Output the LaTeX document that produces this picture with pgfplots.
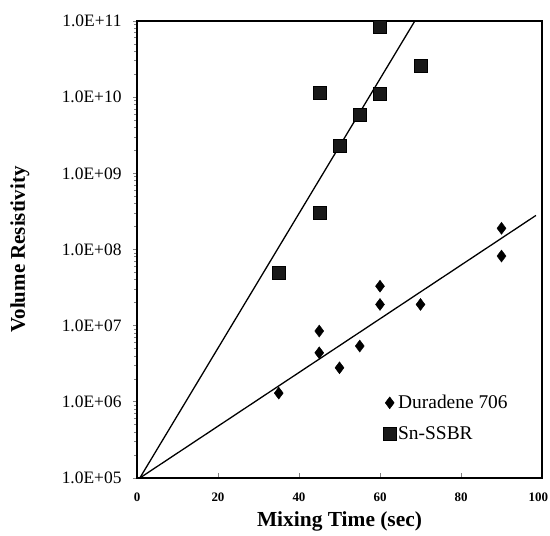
\documentclass[border=0pt]{standalone}
\usepackage{fontspec}
\setmainfont{Liberation Serif}
\usepackage{pgfplots}
\pgfplotsset{compat=1.18}
\begin{document}
\begin{tikzpicture}
\useasboundingbox (-137bp,-58bp) rectangle (413bp,478bp);
\begin{axis}[
  at={(0,0)}, anchor=south west,
  scale only axis, width=405bp, height=457bp,
  ymode=log, xmin=0, xmax=100, ymin=1e5, ymax=1e11,
  axis line style={line width=1.3bp},
  xtick={0,20,40,60,80,100},
  xticklabels={0,20,40,60,80,\makebox[0pt][r]{100\kern-6bp}},
  ytick={1e5,1e6,1e7,1e8,1e9,1e10,1e11},
  yticklabels={1.0E+05,1.0E+06,1.0E+07,1.0E+08,1.0E+09,1.0E+10,1.0E+11},
  tick pos=left, tick align=outside, major tick length=4bp,
  xtick style={yshift=5bp, line width=0.8bp},
  ytick style={line width=0.8bp},
  /pgf/number format/assume math mode=true,
  xticklabel style={font=\fontsize{13}{15}\selectfont\bfseries, yshift=-7bp},
  yticklabel style={font=\fontsize{17.5}{20}\selectfont, xshift=-8bp},
  xlabel={Mixing Time (sec)},
  ylabel={Volume Resistivity},
  xlabel style={font=\fontsize{21.5}{24}\selectfont\bfseries, at={(axis description cs:0.5,-0.096)}, anchor=center},
  ylabel style={font=\fontsize{21}{24}\selectfont\bfseries, at={(axis description cs:-0.289,0.5)}, anchor=center, rotate=0},
  legend style={at={(0.6,0.19)}, anchor=north west, draw=none, fill=none,
    font=\fontsize{19.5}{22}\selectfont, row sep=12bp},
  legend cell align=left,
]
% measured resistivity
\addplot[only marks, mark=diamond*, mark size=6bp, black] coordinates {
  (35,1.3e6) (45,8.5e6) (45,4.4e6) (50,2.8e6) (55,5.4e6)
  (60,3.3e7) (60,1.9e7) (70,1.9e7) (90,1.9e8) (90,8.2e7)
};
\addlegendentry{Duradene 706}
\addplot[only marks, mark=square*, mark size=6.5bp, draw=black, fill=black!90] coordinates {
  (35,5e7) (45,3e8) (45,1.15e10) (50,2.3e9) (55,5.8e9)
  (60,1.1e10) (60,8.3e10) (70,2.6e10)
};
\addlegendentry{Sn-SSBR}
% exponential trend lines
\addplot[black, line width=1.3bp, forget plot] coordinates {(0.7,1e5) (68.6,1e11)};
\addplot[black, line width=1.3bp, forget plot] coordinates {(0.7,1e5) (98.5,2.8e8)};
\end{axis}
\end{tikzpicture}
\end{document}
